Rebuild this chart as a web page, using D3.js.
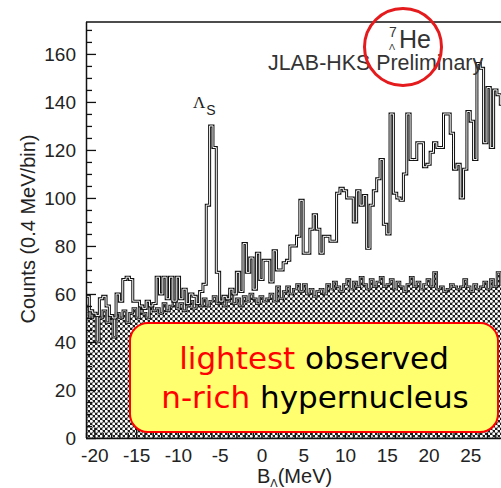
<!DOCTYPE html>
<html>
<head>
<meta charset="utf-8">
<script src="https://cdn.jsdelivr.net/npm/d3@7"></script>
<style>
  body { margin: 0; background: #fff; }
  svg { display: block; }
</style>
</head>
<body>
<svg id="chart"></svg>
<script>
// histogram: 0.4 MeV bins starting at -21 MeV
const binStart = -21
const binWidth = 0.4

const mainCounts = [
  59, 53, 52, 51, 58, 59, 55, 51, 50, 60,
  57, 66, 67, 66, 57, 57, 55, 54, 57, 55,
  56, 67, 60, 67, 58, 67, 57, 67, 58, 62,
  56, 60, 59, 56, 61, 64, 97, 130, 121, 69,
  57, 59, 58, 62, 60, 69, 61, 81, 69, 75,
  62, 77, 66, 74, 74, 65, 78, 70, 70, 73,
  74, 80, 80, 84, 99, 77, 77, 87, 93, 87,
  77, 84, 84, 82, 82, 102, 104, 103, 100, 100,
  90, 103, 97, 101, 79, 97, 103, 108, 116, 89,
  85, 135, 102, 100, 99, 110, 135, 116, 116, 123,
  123, 113, 114, 119, 123, 121, 121, 135, 135, 127,
  112, 114, 100, 112, 136, 132, 116, 156, 154, 123,
  146, 121, 145, 143, 139
]

const bgCounts = [
  55, 50, 52, 40, 50, 53, 48, 51, 42, 52,
  50, 53, 48, 52, 54, 50, 55, 52, 50, 55,
  53, 54, 52, 56, 53, 55, 57, 54, 56, 53,
  55, 57, 54, 56, 55, 58, 55, 57, 59, 56,
  58, 55, 57, 60, 56, 58, 55, 59, 57, 60,
  58, 56, 59, 57, 58, 60, 57, 63, 58, 61,
  63, 60, 62, 64, 61, 64, 60, 62, 59, 61,
  62, 60, 64, 62, 65, 63, 61, 64, 66, 62,
  65, 63, 67, 64, 62, 66, 63, 65, 67, 63,
  64, 66, 62, 65, 63, 61, 64, 67, 63, 65,
  62, 64, 66, 63, 69, 62, 63, 61, 62, 64,
  63, 62, 63, 66, 63, 61, 64, 62, 63, 65,
  62, 66, 63, 69, 64
]

const yMajorTicks = [0, 20, 40, 60, 80, 100, 120, 140, 160]
const xMajorTicks = [-20, -15, -10, -5, 0, 5, 10, 15, 20, 25]

const W = 501, H = 488
const svg = d3.select('#chart').attr('width', W).attr('height', H)

const plotLeft = 86, plotTop = 22, plotBottom = 438

const x = d3.scaleLinear().domain([-21, 29]).range([plotLeft, plotLeft + 50 * 8.353])
const y = d3.scaleLinear().domain([0, 173.3]).range([plotBottom, plotTop])

// hatch pattern for the background histogram
const defs = svg.append('defs')
const pat = defs.append('pattern')
  .attr('id', 'hatch')
  .attr('patternUnits', 'userSpaceOnUse')
  .attr('width', 5).attr('height', 5)
pat.append('rect').attr('width', 5).attr('height', 5).attr('fill', '#1e1e1e')
pat.append('circle').attr('cx', 1.25).attr('cy', 1.25).attr('r', 1.5).attr('fill', '#fff')
pat.append('circle').attr('cx', 3.75).attr('cy', 3.75).attr('r', 1.5).attr('fill', '#fff')

defs.append('clipPath').attr('id', 'plotclip')
  .append('rect')
  .attr('x', plotLeft).attr('y', plotTop)
  .attr('width', W - plotLeft).attr('height', plotBottom - plotTop)

const toPoints = counts => {
  const pts = counts.map((v, i) => ({e: binStart + i * binWidth, v: v}))
  pts.push({e: binStart + counts.length * binWidth, v: counts[counts.length - 1]})
  return pts
}

const plot = svg.append('g').attr('clip-path', 'url(#plotclip)')

// background (hatched)
const area = d3.area()
  .curve(d3.curveStepAfter)
  .x(d => x(d.e))
  .y0(y(0))
  .y1(d => y(d.v))

const stepLine = d3.line()
  .curve(d3.curveStepAfter)
  .x(d => x(d.e))
  .y(d => y(d.v))

plot.append('path')
  .datum(toPoints(bgCounts))
  .attr('fill', 'url(#hatch)')
  .attr('d', area)

plot.append('path')
  .datum(toPoints(bgCounts))
  .attr('fill', 'none')
  .attr('stroke', '#111')
  .attr('stroke-width', 2.4)
  .attr('d', stepLine)
plot.append('path')
  .datum(toPoints(bgCounts))
  .attr('fill', 'none')
  .attr('stroke', '#ddd')
  .attr('stroke-width', 0.7)
  .attr('d', stepLine)

// main spectrum, hollow-looking outline
plot.append('path')
  .datum(toPoints(mainCounts))
  .attr('fill', 'none')
  .attr('stroke', '#111')
  .attr('stroke-width', 3)
  .attr('d', stepLine)
plot.append('path')
  .datum(toPoints(mainCounts))
  .attr('fill', 'none')
  .attr('stroke', '#fff')
  .attr('stroke-width', 1)
  .attr('d', stepLine)

// frame
svg.append('line')
  .attr('x1', plotLeft).attr('x2', W).attr('y1', plotTop).attr('y2', plotTop)
  .attr('stroke', '#111').attr('stroke-width', 1.4)

// y axis, ticks inward
const yMinor = d3.range(0, 175, 5).filter(v => v % 20 !== 0)
const yAxisMinor = d3.axisLeft(y).tickValues(yMinor).tickSize(-6).tickFormat('')
const yAxis = d3.axisLeft(y).tickValues(yMajorTicks).tickSize(-10).tickPadding(10)

svg.append('g').attr('transform', `translate(${plotLeft},0)`).call(yAxisMinor)
  .call(g => g.select('.domain').remove())
const yg = svg.append('g').attr('transform', `translate(${plotLeft},0)`).call(yAxis)
yg.select('.domain').attr('d', `M0.5,${plotTop}V${plotBottom}`)

// x axis, ticks inward
const xMinor = d3.range(-21, 29, 1).filter(v => v % 5 !== 0)
const xAxisMinor = d3.axisBottom(x).tickValues(xMinor).tickSize(-5).tickFormat('')
const xAxis = d3.axisBottom(x).tickValues(xMajorTicks).tickSize(-10).tickPadding(22)
  .tickFormat(d => d)

svg.append('g').attr('transform', `translate(0,${plotBottom})`).call(xAxisMinor)
  .call(g => g.select('.domain').remove())
const xg = svg.append('g').attr('transform', `translate(0,${plotBottom})`).call(xAxis)
xg.select('.domain').attr('d', `M${plotLeft},0.5H${W}`)

svg.selectAll('.tick line').attr('stroke', '#111').attr('stroke-width', 1.3)
svg.selectAll('.domain').attr('stroke', '#111').attr('stroke-width', 1.5)
svg.selectAll('.tick text')
  .attr('fill', '#222')
  .attr('font-family', 'Liberation Sans, Arial, sans-serif')
  .attr('font-size', '19px')
yg.selectAll('.tick text').attr('dy', '0.36em')
xg.selectAll('.tick text').attr('dy', '0em').attr('y', 24)

// axis titles
svg.append('text')
  .attr('transform', 'translate(35,229) rotate(-90)')
  .attr('text-anchor', 'middle')
  .attr('font-family', 'Liberation Sans, Arial, sans-serif')
  .attr('font-size', '20px')
  .attr('fill', '#222')
  .text('Counts (0.4 MeV/bin)')

const xt = svg.append('text')
  .attr('x', 257).attr('y', 483)
  .attr('font-family', 'Liberation Sans, Arial, sans-serif')
  .attr('font-size', '20px')
  .attr('fill', '#222')
xt.append('tspan').text('B')
xt.append('tspan').attr('font-size', '11px').attr('dy', 4).text('Λ')
xt.append('tspan').attr('dy', -4).text('(MeV)')

// peak label
const ls = svg.append('text')
  .attr('x', 193).attr('y', 108)
  .attr('fill', '#222')
ls.append('tspan').attr('font-family', 'Liberation Serif, serif').attr('font-size', '17px').text('Λ')
ls.append('tspan').attr('font-family', 'Liberation Sans, sans-serif').attr('font-size', '14px')
  .attr('dy', 7).attr('dx', 1).text('S')

// annotation
svg.append('text')
  .attr('x', 268).attr('y', 70)
  .attr('font-family', 'Liberation Sans, Arial, sans-serif')
  .attr('font-size', '21.4px')
  .attr('fill', '#333')
  .text('JLAB-HKS Preliminary')

svg.append('text').attr('x', 389).attr('y', 37)
  .attr('font-family', 'Liberation Sans, sans-serif').attr('font-size', '14px')
  .attr('fill', '#333').text('7')
svg.append('text').attr('x', 389).attr('y', 50)
  .attr('font-family', 'Liberation Sans, sans-serif').attr('font-size', '9px')
  .attr('fill', '#333').text('Λ')
svg.append('text').attr('x', 399).attr('y', 48)
  .attr('font-family', 'Liberation Sans, sans-serif').attr('font-size', '25px')
  .attr('fill', '#333').text('He')

svg.append('circle')
  .attr('cx', 403).attr('cy', 47).attr('r', 38.5)
  .attr('fill', 'none').attr('stroke', '#e41a1c').attr('stroke-width', 3)

// callout box
svg.append('rect')
  .attr('x', 130).attr('y', 323)
  .attr('width', 368).attr('height', 109)
  .attr('rx', 18)
  .attr('fill', '#ffff70')
  .attr('stroke', '#ff0000')
  .attr('stroke-width', 2)

const boxFont = 'DejaVu Sans, Verdana, sans-serif'
const l1 = svg.append('text')
  .attr('x', 314).attr('y', 369)
  .attr('text-anchor', 'middle')
  .attr('font-family', boxFont).attr('font-size', '31px')
l1.append('tspan').attr('fill', '#ff0000').text('lightest')
l1.append('tspan').attr('fill', '#000').text(' observed')

const l2 = svg.append('text')
  .attr('x', 315).attr('y', 408)
  .attr('text-anchor', 'middle')
  .attr('font-family', boxFont).attr('font-size', '31px')
l2.append('tspan').attr('fill', '#ff0000').text('n-rich')
l2.append('tspan').attr('fill', '#000').text(' hypernucleus')
</script>
</body>
</html>
